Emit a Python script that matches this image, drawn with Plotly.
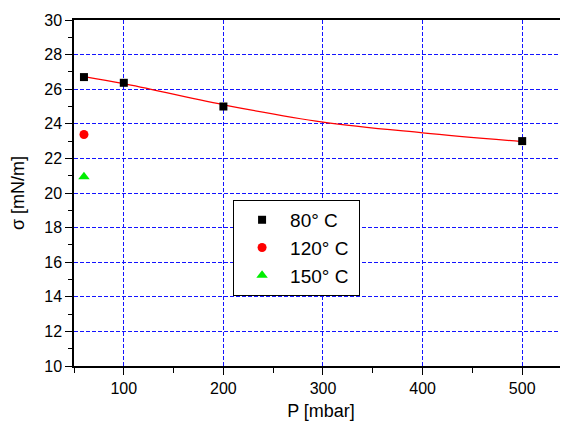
import plotly.graph_objects as go

# Data
p80 = [60, 100, 200, 500]
s80 = [26.7, 26.37, 25.0, 23.0]
p120 = [60]
s120 = [23.38]
p150 = [60]
s150 = [20.94]
fit_p = [60, 100, 200, 300, 400, 500]
fit_s = [26.73, 26.32, 25.1, 24.1, 23.48, 22.97]
names = ["80° C", "120° C", "150° C"]

fig = go.Figure()
fig.add_trace(go.Scatter(x=fit_p, y=fit_s, mode="lines", line=dict(color="red", width=1.3, shape="spline"),
                         showlegend=False, hoverinfo="skip"))
fig.add_trace(go.Scatter(x=p80, y=s80, mode="markers", name=names[0] + "\u00a0",
                         marker=dict(symbol="square", size=8, color="black")))
fig.add_trace(go.Scatter(x=p120, y=s120, mode="markers", name=names[1] + "\u00a0",
                         marker=dict(symbol="circle", size=9, color="red")))
fig.add_trace(go.Scatter(x=p150, y=s150, mode="markers", name=names[2] + "\u00a0",
                         marker=dict(symbol="triangle-up", size=10, color="#00ee00")))

grid = dict(showgrid=True, gridcolor="rgb(20,20,255)", gridwidth=1.2, griddash="4px,2px")
# the page body adds an 8px offset; sizes/margins compensate for it
fig.update_layout(
    width=560, height=415,
    margin=dict(l=66, r=0, t=12, b=57),
    paper_bgcolor="white", plot_bgcolor="white",
    font=dict(family="Liberation Sans, Arial, sans-serif", color="black", size=16),
    legend=dict(x=0.322, y=0.48, xanchor="left", yanchor="top",
                bordercolor="black", borderwidth=1, bgcolor="white",
                font=dict(size=19), itemwidth=46, tracegroupgap=0),
    xaxis=dict(range=[50, 546], tickvals=[100, 200, 300, 400, 500],
               ticks="outside", ticklen=7, tickwidth=1, tickcolor="black",
               minor=dict(dtick=50, tick0=0, ticks="outside", ticklen=5, tickcolor="black", showgrid=False),
               showline=True, linecolor="black", linewidth=1.5, mirror=True,
               zeroline=False, automargin=False,
               title=dict(text="P [mbar]", font=dict(size=18), standoff=8),
               **grid),
    yaxis=dict(range=[10, 30], dtick=2, tick0=0,
               ticks="outside", ticklen=7, tickwidth=1, tickcolor="black",
               minor=dict(dtick=1, tick0=0, ticks="outside", ticklen=4, tickcolor="black", showgrid=False),
               showline=True, linecolor="black", linewidth=1.5,
               zeroline=False, automargin=False,
               title=dict(text="σ [mN/m]", font=dict(size=18), standoff=19),
               **grid),
)
fig.write_html("out.html")
